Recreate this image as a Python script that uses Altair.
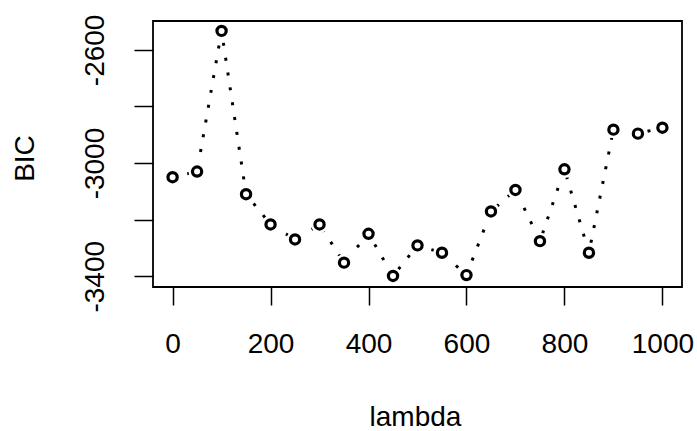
import altair as alt
import pandas as pd

lam = [0, 50, 100, 150, 200, 250, 300, 350, 400, 450, 500,
       550, 600, 650, 700, 750, 800, 850, 900, 950, 1000]
bic = [-3050, -3030, -2533, -3110, -3217, -3270, -3217, -3352, -3250, -3399, -3291,
       -3317, -3396, -3171, -3095, -3276, -3022, -3317, -2882, -2896, -2875]
x_ticks = [0, 200, 400, 600, 800, 1000]
y_ticks = [-3400, -3200, -3000, -2800, -2600]
y_labeled = [-3400, -3000, -2600]

df = pd.DataFrame({"lambda": lam, "BIC": bic})

FONT = "Liberation Sans"
FS = 28

x_enc = alt.X(
    "lambda:Q",
    scale=alt.Scale(domain=[-40, 1040], nice=False, zero=False),
    axis=alt.Axis(
        values=x_ticks, title="lambda", grid=False, domain=False, format="d",
        tickColor="black", tickWidth=1.5, tickSize=18,
        labelFont=FONT, labelFontSize=FS, labelColor="black",
        labelBaseline="alphabetic", labelPadding=47, labelFlush=False,
        labelOverlap=False,
        titleFont=FONT, titleFontSize=FS, titleFontWeight="normal", titleColor="black",
        titleBaseline="alphabetic", titleY=138, titleX=262,
    ),
)
y_enc = alt.Y(
    "BIC:Q",
    scale=alt.Scale(domain=[-3438, -2498], nice=False, zero=False),
    axis=alt.Axis(
        values=y_ticks, title="BIC", grid=False, domain=False,
        tickColor="black", tickWidth=1.5, tickSize=19,
        labelFont=FONT, labelFontSize=FS, labelColor="black",
        labelAngle=-90, labelAlign="center", labelBaseline="alphabetic",
        labelPadding=31, labelFlush=False, labelOverlap=False,
        labelExpr="indexof([-3400, -3000, -2600], datum.value) >= 0 ? replace(format(datum.value, 'd'), '\u2212', '-') : ''",
        titleFont=FONT, titleFontSize=FS, titleFontWeight="normal", titleColor="black",
        titleAngle=-90, titleAlign="center", titleBaseline="alphabetic",
        titleX=-120, titleY=137,
    ),
)

base = alt.Chart(df).encode(x=x_enc, y=y_enc)

line = base.mark_line(color="black", strokeWidth=3, strokeDash=[3, 12])
halo = base.mark_point(shape="circle", filled=True, color="white", size=300, opacity=1)
pts = base.mark_point(shape="circle", filled=False, color="black", size=85,
                      strokeWidth=3.2, fill="white", fillOpacity=1, opacity=1)

chart = (
    alt.layer(line, halo, pts)
    .properties(
        width=529, height=266,
        autosize=alt.AutoSizeParams(type="none"),
        padding={"left": 153, "top": 21, "right": 15, "bottom": 144},
        background="white",
    )
    .configure_view(stroke="black", strokeWidth=1.8)
)

chart.save("out.html", embed_options={"renderer": "svg", "actions": False})
